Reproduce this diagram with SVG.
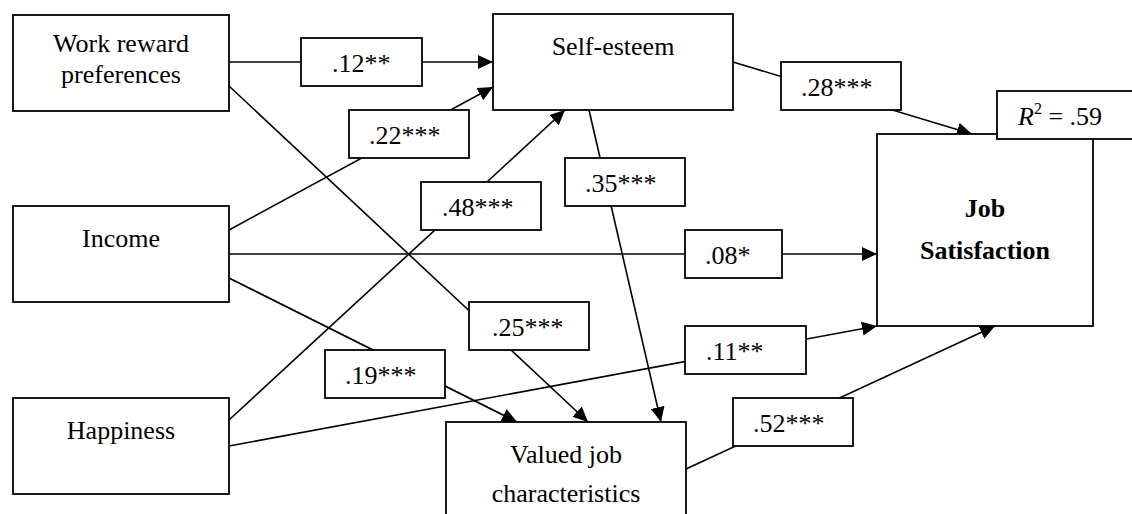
<svg xmlns="http://www.w3.org/2000/svg" width="1132" height="514" viewBox="0 0 1132 514">
<style>
.node rect{fill:#fff;stroke:#000;stroke-width:1.8}
.node text{font-family:"Liberation Serif","Times New Roman",serif;font-size:26px;fill:#000;text-anchor:middle}
.node text.b{font-weight:bold}
.lbl rect{fill:#fff;stroke:#000;stroke-width:1.8}
.lbl text{font-family:"Liberation Serif","Times New Roman",serif;font-size:26px;fill:#000}
.lbl tspan.sup{font-size:16px}
#connectors path{fill:none;stroke:#000;stroke-width:1.6;marker-end:url(#arr)}
</style>
<defs>
<marker id="arr" markerUnits="userSpaceOnUse" markerWidth="16" markerHeight="14" refX="15" refY="7" orient="auto">
<path d="M0,0 L15,7 L0,14 z" fill="#000"/>
</marker>
</defs>
<rect width="1132" height="514" fill="#fff"/>
<g id="connectors">
<path d="M229,62 L493,62"/>
<path d="M229,230 L493,87"/>
<path d="M229,420 L565,110"/>
<path d="M229,86 L588,422"/>
<path d="M229,254 L877,254"/>
<path d="M229,278 L517,422"/>
<path d="M229,446 L877,326"/>
<path d="M589,110 L661,422"/>
<path d="M733,62 L972,134"/>
<path d="M686,469 L995,326"/>
</g>
<g id="labels">
<g class="lbl" id="l12"><rect x="301" y="38" width="121" height="48"/><text x="332" y="72">.12**</text></g>
<g class="lbl" id="l22"><rect x="349" y="110" width="120" height="48"/><text x="369" y="144">.22***</text></g>
<g class="lbl" id="l48"><rect x="421" y="182" width="120" height="48"/><text x="442" y="216">.48***</text></g>
<g class="lbl" id="l35"><rect x="565" y="158" width="120" height="48"/><text x="585" y="192">.35***</text></g>
<g class="lbl" id="l28"><rect x="781" y="62" width="120" height="48"/><text x="801" y="96">.28***</text></g>
<g class="lbl" id="l08"><rect x="685" y="230" width="97" height="48"/><text x="705" y="264">.08*</text></g>
<g class="lbl" id="l25"><rect x="469" y="302" width="120" height="48"/><text x="492" y="336">.25***</text></g>
<g class="lbl" id="l19"><rect x="325" y="350" width="120" height="48"/><text x="345" y="384">.19***</text></g>
<g class="lbl" id="l11"><rect x="685" y="326" width="121" height="48"/><text x="706" y="360">.11**</text></g>
<g class="lbl" id="l52"><rect x="733" y="398" width="120" height="48"/><text x="753" y="432">.52***</text></g>
</g>
<g class="node" id="work-reward"><rect x="13" y="15" width="216" height="96"/><text x="121" y="52">Work reward</text><text x="121" y="83">preferences</text></g>
<g class="node" id="income"><rect x="13" y="206" width="216" height="96"/><text x="121" y="247">Income</text></g>
<g class="node" id="happiness"><rect x="13" y="398" width="216" height="96"/><text x="121" y="439">Happiness</text></g>
<g class="node" id="self-esteem"><rect x="493" y="14" width="240" height="96"/><text x="613" y="55">Self-esteem</text></g>
<g class="node" id="valued-job"><rect x="446" y="422" width="240" height="110"/><text x="566" y="463">Valued job</text><text x="566" y="502">characteristics</text></g>
<g class="node" id="job-satisfaction"><rect x="877" y="134" width="216" height="192"/><text class="b" x="985" y="217">Job</text><text class="b" x="985" y="259">Satisfaction</text></g>
<g class="lbl" id="r2"><rect x="997" y="91" width="150" height="48"/><text x="1018" y="125"><tspan font-style="italic">R</tspan><tspan class="sup" dy="-11">2</tspan><tspan dy="11"> = .59</tspan></text></g>
</svg>
